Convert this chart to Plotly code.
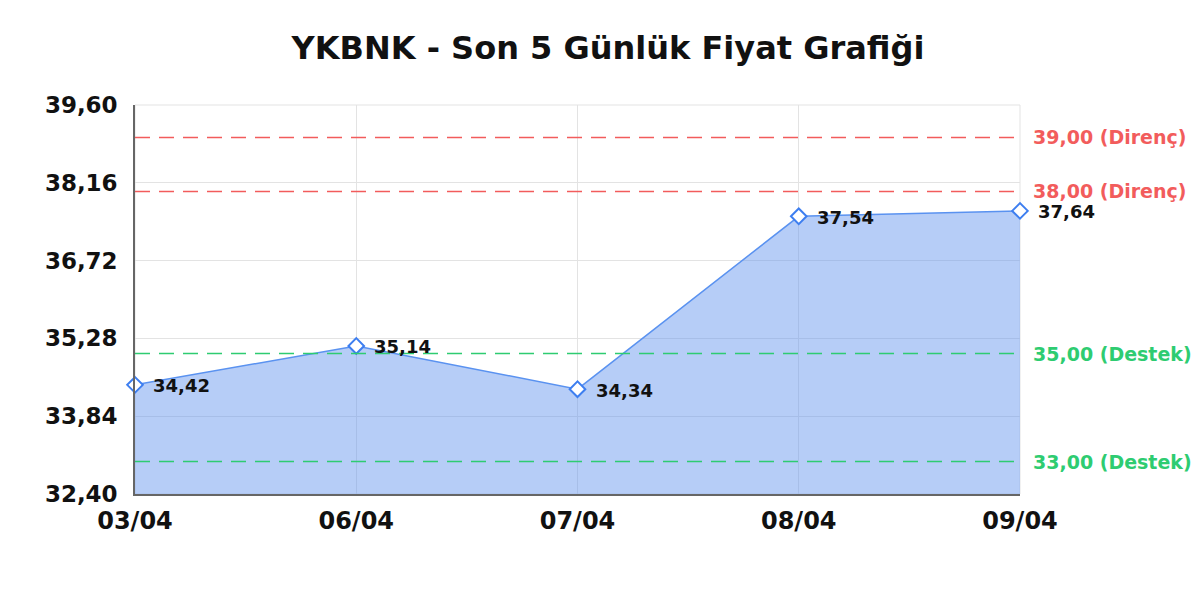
import plotly.graph_objects as go

# Data
dates = ['03/04', '06/04', '07/04', '08/04', '09/04']
prices = [34.42, 35.14, 34.34, 37.54, 37.64]

y_ticks = [32.40, 33.84, 35.28, 36.72, 38.16, 39.60]
y_tick_labels = ['32,40', '33,84', '35,28', '36,72', '38,16', '39,60']

resistance_levels = [39.00, 38.00]
support_levels = [35.00, 33.00]

RED = '#f25c5c'
GREEN = '#2ecc71'


def tr(v):
    return f'{v:.2f}'.replace('.', ',')


fig = go.Figure()

# Price area
fig.add_trace(go.Scatter(
    x=list(range(len(dates))),
    y=prices,
    mode='lines+markers',
    fill='tozeroy',
    fillcolor='rgba(100,149,237,0.47)',
    line=dict(color='#5a92f0', width=1.5),
    marker=dict(symbol='diamond', size=12, color='white',
                line=dict(width=2, color='#3d7ef0')),
    cliponaxis=False,
    showlegend=False,
    hoverinfo='skip'
))

annotations = []
# Point labels
for i, p in enumerate(prices):
    annotations.append(dict(x=i, y=p, xref='x', yref='y', xanchor='left', yanchor='middle',
                            xshift=17, yshift=-1, showarrow=False, borderpad=0,
                            text=tr(p),
                            font=dict(family='DejaVu Sans', size=18, color='#111111', weight='bold')))

# Support / resistance lines
shapes = [dict(type='rect', xref='paper', yref='paper', x0=0, x1=1, y0=0, y1=1,
               line=dict(color='#e3e3e3', width=1), layer='below')]
for lvl, color, label in ([(r, RED, 'Direnç') for r in resistance_levels] +
                          [(s, GREEN, 'Destek') for s in support_levels]):
    shapes.append(dict(type='line', xref='paper', yref='y', x0=0, x1=1, y0=lvl, y1=lvl,
                       line=dict(color=color, width=1.5, dash='15px,9px'), layer='above'))
    annotations.append(dict(x=1, xref='paper', y=lvl, yref='y', xanchor='left',
                            xshift=12, showarrow=False, borderpad=0,
                            text=f'{tr(lvl)} ({label})',
                            font=dict(family='DejaVu Sans', size=19, color=color, weight='bold')))

fig.update_layout(
    title=dict(text='YKBNK - Son 5 Günlük Fiyat Grafiği', x=0.5, xanchor='center',
               y=0.933, yanchor='middle',
               font=dict(family='DejaVu Sans', size=32, color='#111111', weight='bold')),
    width=1200, height=600,
    margin=dict(l=127, r=188, t=97, b=114),
    paper_bgcolor='white',
    plot_bgcolor='white',
    shapes=shapes,
    annotations=annotations,
    xaxis=dict(
        range=[0, len(dates) - 1],
        tickvals=list(range(len(dates))),
        ticktext=dates,
        showgrid=True, gridcolor='#e3e3e3', gridwidth=1,
        showline=True, linecolor='#666666', linewidth=1.5,
        ticks='', zeroline=False, ticklabelstandoff=4,
        tickfont=dict(family='DejaVu Sans', size=24, color='#111111', weight='bold'),
    ),
    yaxis=dict(
        range=[32.40, 39.60],
        tickvals=y_ticks,
        ticktext=y_tick_labels,
        showgrid=True, gridcolor='#e3e3e3', gridwidth=1,
        showline=True, linecolor='#666666', linewidth=1.5,
        ticks='', zeroline=False, ticklabelstandoff=11,
        tickfont=dict(family='DejaVu Sans', size=23, color='#111111', weight='bold'),
    ),
)

fig.write_html('out.html')
